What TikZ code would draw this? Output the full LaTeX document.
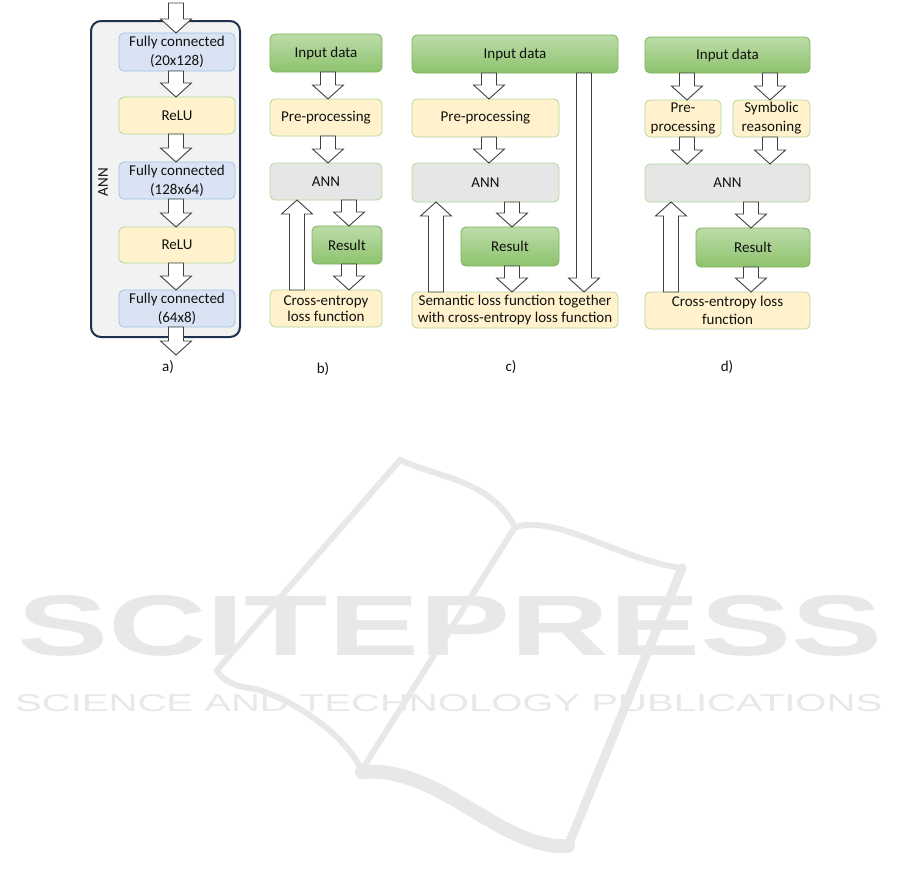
\documentclass[tikz,border=0pt]{standalone}
\usepackage{fontspec}
\setmainfont{Carlito}
\newfontfamily\wmfont{Liberation Sans}
\usetikzlibrary{calc}
\definecolor{txt}{HTML}{111111}
\definecolor{grntop}{HTML}{BCDCA8}
\definecolor{grnbot}{HTML}{8EC36E}
\definecolor{grnline}{HTML}{7DB35C}
\definecolor{yelfill}{HTML}{FFF2CC}
\definecolor{yelline}{HTML}{B4D89C}
\definecolor{gryfill}{HTML}{E6E6E6}
\definecolor{blufill}{HTML}{DAE3F3}
\definecolor{bluline}{HTML}{9DC3E6}
\definecolor{navy}{HTML}{1F3050}
\definecolor{panelfill}{HTML}{F2F2F2}
\definecolor{arrline}{HTML}{404040}
\definecolor{wm}{HTML}{E7E9E8}
\newcommand{\blkdn}[3]{\draw[blk] let \p1=(#1), \p2=(#2), \p3=(#3,0) in
 (\x3-7.5pt,\y1) -- (\x3-7.5pt,\y2+14pt) -- (\x3-15.5pt,\y2+14pt) -- (\x3,\y2) --
 (\x3+15.5pt,\y2+14pt) -- (\x3+7.5pt,\y2+14pt) -- (\x3+7.5pt,\y1) -- cycle;}
\newcommand{\blkup}[3]{\draw[blk] let \p1=(#1), \p2=(#2), \p3=(#3,0) in
 (\x3-7.5pt,\y1) -- (\x3-7.5pt,\y2-14pt) -- (\x3-15.5pt,\y2-14pt) -- (\x3,\y2) --
 (\x3+15.5pt,\y2-14pt) -- (\x3+7.5pt,\y2-14pt) -- (\x3+7.5pt,\y1) -- cycle;}
\begin{document}
\begin{tikzpicture}[x=1pt,y=-1pt,
  box/.style={rounded corners=5pt, draw, line width=0.8pt, outer sep=0pt, inner sep=1pt,
    align=center, font=\fontsize{15}{17.5}\selectfont, text=txt},
  grn/.style={box, draw=grnline, top color=grntop, bottom color=grnbot},
  yel/.style={box, draw=yelline, fill=yelfill},
  gry/.style={box, draw=yelline, fill=gryfill},
  blu/.style={box, draw=bluline, fill=blufill, font=\fontsize{15}{19}\selectfont},
  blk/.style={draw=arrline, fill=white, line width=0.9pt, line join=miter},
  lbl/.style={font=\fontsize{15}{17}\selectfont, text=txt, inner sep=0pt}]
\useasboundingbox (0,0) rectangle (901,887);
\fill[white] (0,0) rectangle (901,887);

% ---------------- watermark ----------------
\begin{scope}[draw=wm, line cap=round]
\draw[line width=6pt] (400,460) -- (217,670) .. controls (222,681) and (236,687) .. (256,689)
   .. controls (300,702) and (350,740) .. (362,772);
\draw[line width=6pt] (400,460) .. controls (440,478) and (490,480) .. (515,527);
\draw[line width=6pt] (515,527) .. controls (560,515) and (620,560) .. (682,568);
\draw[line width=6pt] (515,527) -- (363,768);
\draw[line width=9pt] (682,568) -- (568,846);
\draw[line width=14pt] (362,772) .. controls (440,765) and (500,850) .. (568,846);
\end{scope}
\node[anchor=south west, inner sep=0pt, text=wm] (wm1) at (17,657)
  {\resizebox{865pt}{60pt}{\wmfont\bfseries SCITEPRESS}};
\node[anchor=south west, inner sep=0pt, text=wm] (wm2) at (15,712)
  {\resizebox{867pt}{17pt}{\wmfont SCIENCE AND TECHNOLOGY PUBLICATIONS}};

% ---------------- panel a ----------------
\node[draw=navy, line width=2pt, fill=panelfill, rounded corners=10pt, outer sep=0pt,
  minimum width=149pt, minimum height=316pt] (annbox) at (165.5,179) {};
\node[lbl, rotate=90] (annlbl) at (103,182) {ANN};
\node[blu, minimum width=116pt, minimum height=38pt] (fc1) at (177,52) {Fully connected\\(20x128)};
\node[yel, minimum width=116pt, minimum height=37pt] (relu1) at (177,115.5) {ReLU};
\node[blu, minimum width=116pt, minimum height=37pt] (fc2) at (177,180.5) {Fully connected\\(128x64)};
\node[yel, minimum width=116pt, minimum height=36pt] (relu2) at (177,245) {ReLU};
\node[blu, minimum width=116pt, minimum height=37pt] (fc3) at (177,308.5) {Fully connected\\(64x8)};
\coordinate (atop) at (176,3);
\coordinate (abot) at (176,355);
\blkdn{atop}{fc1.north}{176}
\blkdn{fc1.south}{relu1.north}{176}
\blkdn{relu1.south}{fc2.north}{176}
\blkdn{fc2.south}{relu2.north}{176}
\blkdn{relu2.south}{fc3.north}{176}
\blkdn{fc3.south}{abot}{176}
\node[lbl] (la) at (168,367) {a)};

% ---------------- panel b ----------------
\node[grn, minimum width=112pt, minimum height=38pt] (inb) at (326,53) {Input data};
\node[yel, minimum width=112pt, minimum height=37pt] (preb) at (326,117.5) {Pre-processing};
\node[gry, minimum width=112pt, minimum height=37pt] (annb) at (326,181.5) {ANN};
\node[grn, minimum width=70pt, minimum height=38pt] (resb) at (347,245) {Result};
\node[yel, minimum width=112pt, minimum height=37pt, font=\fontsize{15}{16.5}\selectfont] (crb) at (326,308.5) {Cross-entropy\\loss function};
\blkdn{inb.south}{preb.north}{328}
\blkdn{preb.south}{annb.north}{328}
\blkdn{annb.south}{resb.north}{349}
\blkdn{resb.south}{crb.north}{349}
\blkup{crb.north}{annb.south}{297}
\node[lbl] (lb) at (323,369) {b)};

% ---------------- panel c ----------------
\node[grn, minimum width=206pt, minimum height=38pt] (inc) at (515,54) {Input data};
\node[yel, minimum width=147pt, minimum height=38pt] (prec) at (485.5,118) {Pre-processing};
\node[gry, minimum width=147pt, minimum height=39pt] (annc) at (485.5,182.5) {ANN};
\node[grn, minimum width=98pt, minimum height=39pt] (resc) at (510,246.5) {Result};
\node[yel, minimum width=206pt, minimum height=36pt] (semc) at (515,310) {Semantic loss function together\\with cross-entropy loss function};
\blkdn{inc.south}{prec.north}{489}
\blkdn{prec.south}{annc.north}{489}
\blkdn{annc.south}{resc.north}{512}
\blkdn{resc.south}{semc.north}{512}
\blkup{semc.north}{annc.south}{436}
\blkdn{inc.south}{semc.north}{584}
\node[lbl] (lc) at (511,367) {c)};

% ---------------- panel d ----------------
\node[grn, minimum width=165pt, minimum height=36pt] (ind) at (727.5,55) {Input data};
\node[yel, minimum width=76pt, minimum height=37pt, font=\fontsize{15}{19}\selectfont] (pred) at (683,118.5) {Pre-\\processing};
\node[yel, minimum width=77pt, minimum height=37pt, font=\fontsize{15}{19}\selectfont] (symd) at (771.5,118.5) {Symbolic\\reasoning};
\node[gry, minimum width=165pt, minimum height=38pt] (annd) at (727.5,183) {ANN};
\node[grn, minimum width=114pt, minimum height=39pt] (resd) at (753,247.5) {Result};
\node[yel, minimum width=165pt, minimum height=37pt] (crd) at (727.5,310.5) {Cross-entropy loss\\function};
\blkdn{ind.south}{pred.north}{687}
\blkdn{ind.south}{symd.north}{770}
\blkdn{pred.south}{annd.north}{687}
\blkdn{symd.south}{annd.north}{770}
\blkdn{annd.south}{resd.north}{751}
\blkdn{resd.south}{crd.north}{751}
\blkup{crd.north}{annd.south}{671}
\node[lbl] (ld) at (727,367) {d)};
\end{tikzpicture}
\end{document}
